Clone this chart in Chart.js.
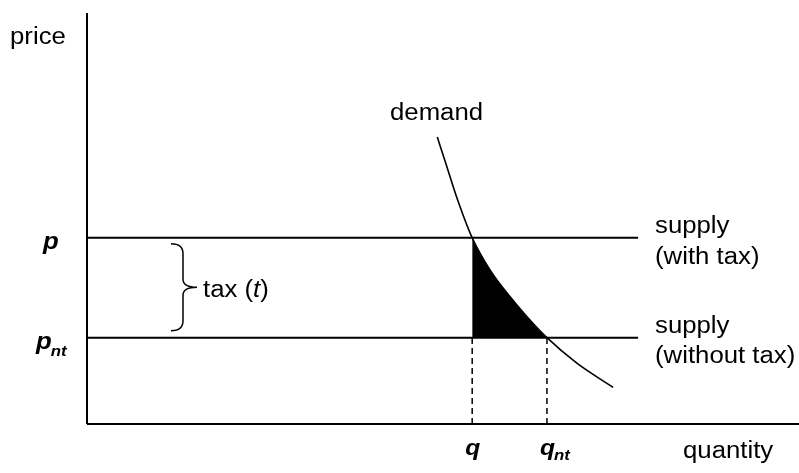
<!DOCTYPE html>
<html>
<head>
<meta charset="utf-8">
<script src="https://cdn.jsdelivr.net/npm/chart.js@4.4.1/dist/chart.umd.min.js"></script>
<style>
  html, body { margin: 0; background: #fff; }
  #wrap { width: 799px; height: 473px; }
</style>
</head>
<body>
<div id="wrap"><canvas id="myChart"></canvas></div>
<script>
// values (axes run 0..10 in both directions)
const priceWithTax = 4.53;   // p
const priceNoTax = 2.10;     // p_nt
const qtyWithTax = 5.41;     // q
const qtyNoTax = 6.46;       // q_nt
const supplyEnd = 7.74;
const demandQty = [4.92, 5.04, 5.19, 5.41, 5.66, 5.94, 6.18, 6.46, 6.88, 7.39];
const demandPrice = [6.98, 6.34, 5.53, 4.53, 3.75, 3.10, 2.61, 2.10, 1.48, 0.89];
const priceTicks = [{ value: priceWithTax, main: 'p', sub: '' }, { value: priceNoTax, main: 'p', sub: 'nt' }];
const qtyTicks = [{ value: qtyWithTax, main: 'q', sub: '' }, { value: qtyNoTax, main: 'q', sub: 'nt' }];

const demand = demandQty.map((q, i) => ({ x: q, y: demandPrice[i] }));
const shaded = demand.filter(d => d.x >= qtyWithTax && d.x <= qtyNoTax);

const FONT = '"Liberation Sans", Arial, sans-serif';
const SX = 1.12; // text in the picture is a bit wider than tall

function drawText(ctx, s, x, y, style) {
    ctx.save();
    ctx.font = style + ' ' + FONT;
    const w = ctx.measureText(s).width * SX;
    ctx.translate(x, y);
    ctx.scale(SX, 1);
    ctx.fillText(s, 0, 0);
    ctx.restore();
    return w;
}

const labelsPlugin = {
    id: 'labels',
    afterDraw(chart) {
        const ctx = chart.ctx;
        const xs = chart.scales.x, ys = chart.scales.y;
        ctx.save();
        ctx.fillStyle = '#000';
        ctx.textBaseline = 'alphabetic';

        drawText(ctx, 'price', 10, 44, '23px');
        drawText(ctx, 'quantity', 683, 458, '23px');
        drawText(ctx, 'demand', 390, 120, '23px');

        const yP = ys.getPixelForValue(priceWithTax);
        const yN = ys.getPixelForValue(priceNoTax);
        drawText(ctx, 'supply', 655, yP - 5, '23px');
        drawText(ctx, '(with tax)', 655, yP + 26, '23px');
        drawText(ctx, 'supply', 655, yN - 5, '23px');
        drawText(ctx, '(without tax)', 655, yN + 25, '23px');

        priceTicks.forEach(t => {
            const y = ys.getPixelForValue(t.value);
            const x = t.sub ? 36 : 43;
            const w = drawText(ctx, t.main, x, y + 11, 'italic bold 23px');
            if (t.sub) drawText(ctx, t.sub, x + w - 1, y + 18, 'italic bold 15px');
        });
        qtyTicks.forEach(t => {
            const x = xs.getPixelForValue(t.value);
            const w = drawText(ctx, t.main, x - 7, 455, 'italic bold 22px');
            if (t.sub) drawText(ctx, t.sub, x - 7 + w - 1, 460, 'italic bold 15px');
        });

        // brace for the tax
        const top = yP + 6, bot = yN - 7, mid = (top + bot) / 2;
        ctx.beginPath();
        ctx.lineWidth = 1.5;
        ctx.strokeStyle = '#000';
        ctx.moveTo(171, top);
        ctx.quadraticCurveTo(183, top, 183, top + 10);
        ctx.lineTo(183, mid - 8);
        ctx.quadraticCurveTo(183, mid, 197, mid);
        ctx.quadraticCurveTo(183, mid, 183, mid + 8);
        ctx.lineTo(183, bot - 10);
        ctx.quadraticCurveTo(183, bot, 171, bot);
        ctx.stroke();

        let x = 203;
        x += drawText(ctx, 'tax (', x, mid + 10, '23px');
        x += drawText(ctx, 't', x, mid + 10, 'italic 23px');
        drawText(ctx, ')', x, mid + 10, '23px');
        ctx.restore();
    }
};

const line = (data, extra) => Object.assign({
    data: data,
    showLine: true,
    borderColor: '#000',
    borderWidth: 2,
    pointRadius: 0,
    fill: false,
    clip: false
}, extra || {});

new Chart(document.getElementById('myChart'), {
    type: 'scatter',
    data: {
        datasets: [
            line(shaded, { borderWidth: 0, backgroundColor: '#000', fill: { value: priceNoTax }, cubicInterpolationMode: 'monotone' }),
            line([{ x: 0, y: 0 }, { x: 0, y: 10 }]),
            line([{ x: 0, y: 0 }, { x: 10, y: 0 }]),
            line([{ x: 0, y: priceWithTax }, { x: supplyEnd, y: priceWithTax }]),
            line([{ x: 0, y: priceNoTax }, { x: supplyEnd, y: priceNoTax }]),
            line([{ x: qtyWithTax, y: 0 }, { x: qtyWithTax, y: priceNoTax }], { borderWidth: 1.5, borderDash: [6, 4] }),
            line([{ x: qtyNoTax, y: 0 }, { x: qtyNoTax, y: priceNoTax }], { borderWidth: 1.5, borderDash: [6, 4] }),
            line(demand, { borderWidth: 1.6, cubicInterpolationMode: 'monotone' })
        ]
    },
    options: {
        responsive: true,
        maintainAspectRatio: false,
        animation: false,
        layout: { padding: { left: 87, top: 13, right: 0, bottom: 49 } },
        plugins: { legend: { display: false }, tooltip: { enabled: false } },
        scales: {
            x: { type: 'linear', min: 0, max: 10, display: false },
            y: { type: 'linear', min: 0, max: 10, display: false }
        }
    },
    plugins: [labelsPlugin]
});
</script>
</body>
</html>
